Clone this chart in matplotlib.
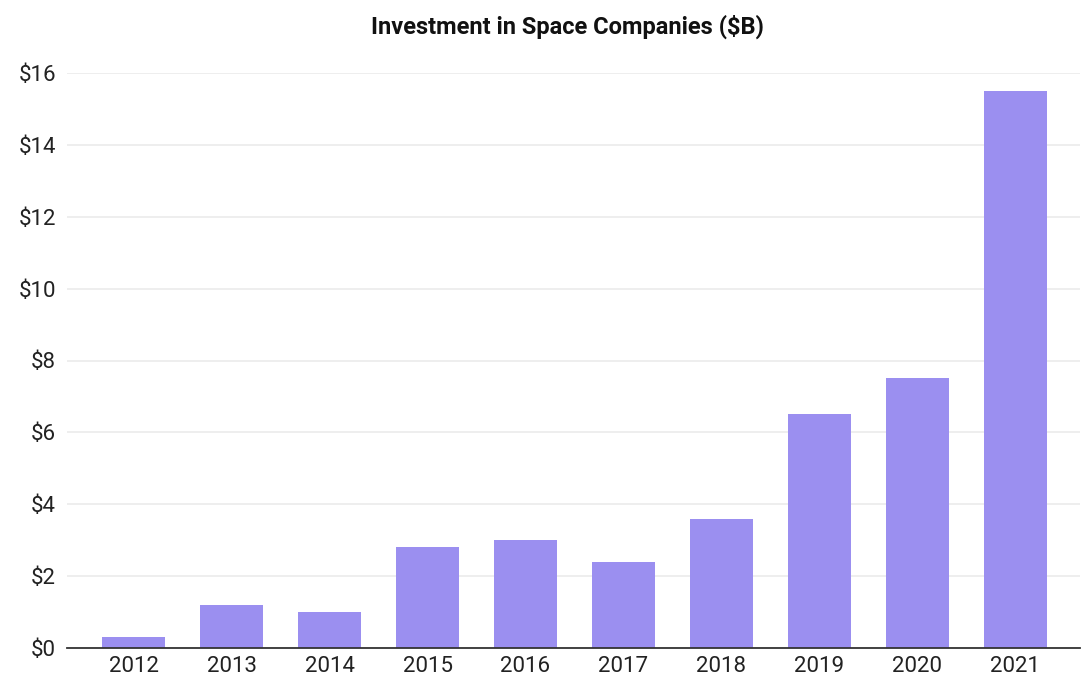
import matplotlib
matplotlib.use('Agg')
from matplotlib import pyplot as plt

# data
years = ['2012', '2013', '2014', '2015', '2016', '2017', '2018', '2019', '2020', '2021']
investment = [0.3, 1.2, 1.0, 2.8, 3.0, 2.4, 3.6, 6.5, 7.5, 15.5]  # $B
yticks = [0, 2, 4, 6, 8, 10, 12, 14, 16]

plt.rcParams['font.family'] = ['Roboto', 'DejaVu Sans']

fig = plt.figure(figsize=(10.92, 6.98), dpi=100)
ax = fig.add_axes([67 / 1092, 1 - 648 / 698, (1080 - 67) / 1092, (648 - 73) / 698])

x = range(len(years))
ax.bar(x, investment, width=0.64, color='#9b8ff0', zorder=3)

ax.set_xlim(-0.68, len(years) - 1 + 0.66)
ax.set_ylim(0, 16)
ax.set_yticks(yticks)
ax.set_yticklabels(['$%d' % v for v in yticks])
ax.set_xticks(list(x))
ax.set_xticklabels(years)

ax.grid(axis='y', color='#ebebeb', linewidth=1.2, zorder=0)
for s in ['top', 'right', 'left']:
    ax.spines[s].set_visible(False)
ax.spines['bottom'].set_color('#333333')
ax.spines['bottom'].set_linewidth(1.3)
ax.spines['bottom'].set_zorder(4)
ax.tick_params(axis='both', length=0, labelsize=16, colors='#222222')
ax.tick_params(axis='y', pad=8)
ax.tick_params(axis='x', pad=6)

fig.text(567 / 1092, 1 - 27 / 698, 'Investment in Space Companies ($B)',
         ha='center', va='center', fontsize=17, fontweight='bold', color='#111111')

fig.savefig('out.png', dpi=100)
